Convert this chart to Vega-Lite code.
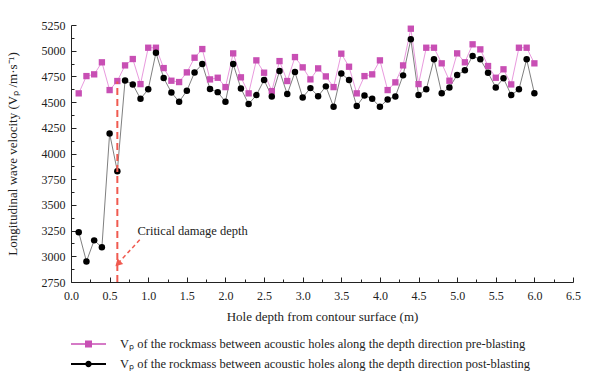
{
  "$schema": "https://vega.github.io/schema/vega-lite/v6.json",
  "width": 502,
  "height": 257,
  "autosize": {"type": "none"},
  "padding": {"left": 71, "top": 25, "right": 27, "bottom": 107},
  "background": "white",
  "config": {
    "view": {"stroke": null},
    "font": "Liberation Serif",
    "axis": {
      "domainColor": "#222",
      "domainWidth": 1,
      "tickColor": "#222",
      "tickWidth": 1,
      "labelFont": "Liberation Serif",
      "labelFontSize": 12,
      "labelColor": "#222",
      "titleFont": "Liberation Serif",
      "titleFontSize": 13,
      "titleFontWeight": "normal",
      "titleColor": "#222",
      "grid": false
    }
  },
  "resolve": {"axis": {"x": "independent", "y": "independent"}},
  "datasets": {
    "vp": [
      {"d": 0.1, "pre": 4585, "post": 3235},
      {"d": 0.2, "pre": 4753, "post": 2950},
      {"d": 0.3, "pre": 4770, "post": 3155},
      {"d": 0.4, "pre": 4887, "post": 3087},
      {"d": 0.5, "pre": 4617, "post": 4195},
      {"d": 0.6, "pre": 4705, "post": 3828},
      {"d": 0.7, "pre": 4857, "post": 4711},
      {"d": 0.8, "pre": 4919, "post": 4672},
      {"d": 0.9, "pre": 4675, "post": 4532},
      {"d": 1.0, "pre": 5029, "post": 4624},
      {"d": 1.1, "pre": 5029, "post": 4980},
      {"d": 1.2, "pre": 4831, "post": 4734},
      {"d": 1.3, "pre": 4708, "post": 4594},
      {"d": 1.4, "pre": 4695, "post": 4503},
      {"d": 1.5, "pre": 4789, "post": 4610},
      {"d": 1.6, "pre": 4932, "post": 4789},
      {"d": 1.7, "pre": 5016, "post": 4870},
      {"d": 1.8, "pre": 4721, "post": 4627},
      {"d": 1.9, "pre": 4737, "post": 4597},
      {"d": 2.0, "pre": 4646, "post": 4503},
      {"d": 2.1, "pre": 4974, "post": 4870},
      {"d": 2.2, "pre": 4741, "post": 4633},
      {"d": 2.3, "pre": 4585, "post": 4481},
      {"d": 2.4, "pre": 4906, "post": 4568},
      {"d": 2.5, "pre": 4786, "post": 4714},
      {"d": 2.6, "pre": 4607, "post": 4555},
      {"d": 2.7, "pre": 4899, "post": 4802},
      {"d": 2.8, "pre": 4705, "post": 4578},
      {"d": 2.9, "pre": 4938, "post": 4792},
      {"d": 3.0, "pre": 4838, "post": 4545},
      {"d": 3.1, "pre": 4721, "post": 4636},
      {"d": 3.2, "pre": 4828, "post": 4558},
      {"d": 3.3, "pre": 4750, "post": 4653},
      {"d": 3.4, "pre": 4646, "post": 4454},
      {"d": 3.5, "pre": 4971, "post": 4779},
      {"d": 3.6, "pre": 4844, "post": 4714},
      {"d": 3.7, "pre": 4585, "post": 4461},
      {"d": 3.8, "pre": 4753, "post": 4565},
      {"d": 3.9, "pre": 4770, "post": 4532},
      {"d": 4.0, "pre": 4906, "post": 4454},
      {"d": 4.1, "pre": 4617, "post": 4526},
      {"d": 4.2, "pre": 4692, "post": 4555},
      {"d": 4.3, "pre": 4857, "post": 4760},
      {"d": 4.4, "pre": 5214, "post": 5111},
      {"d": 4.5, "pre": 4675, "post": 4568},
      {"d": 4.6, "pre": 5029, "post": 4624},
      {"d": 4.7, "pre": 5029, "post": 4916},
      {"d": 4.8, "pre": 4877, "post": 4585},
      {"d": 4.9, "pre": 4708, "post": 4643},
      {"d": 5.0, "pre": 4974, "post": 4763},
      {"d": 5.1, "pre": 4887, "post": 4809},
      {"d": 5.2, "pre": 5062, "post": 4948},
      {"d": 5.3, "pre": 5013, "post": 4916},
      {"d": 5.4, "pre": 4851, "post": 4786},
      {"d": 5.5, "pre": 4737, "post": 4643},
      {"d": 5.6, "pre": 4819, "post": 4731},
      {"d": 5.7, "pre": 4672, "post": 4568},
      {"d": 5.8, "pre": 5029, "post": 4624},
      {"d": 5.9, "pre": 5029, "post": 4916},
      {"d": 6.0, "pre": 4877, "post": 4585}
    ],
    "crit": [{"d": 0.6, "v": 2750, "v2": 4700}],
    "arrow": [{"d": 0.89, "v": 3160, "d2": 0.625, "v2": 2945}],
    "head": [{"d": 0.607, "v": 2928}],
    "label": [{"d": 0.86, "v": 3245, "text": "Critical damage depth"}]
  },
  "layer": [
    {
      "data": {"name": "vp"},
      "mark": {"type": "line", "strokeWidth": 1, "color": "#e99ade"},
      "encoding": {
        "x": {
          "field": "d", "type": "quantitative",
          "scale": {"domain": [0, 6.5], "nice": false, "zero": false},
          "axis": {
            "title": "Hole depth from contour surface (m)",
            "values": [0, 0.5, 1, 1.5, 2, 2.5, 3, 3.5, 4, 4.5, 5, 5.5, 6, 6.5],
            "format": ".1f",
            "tickSize": -5,
            "labelPadding": 13,
            "titlePadding": 9,
            "labelFlush": false,
            "labelOverlap": false
          }
        },
        "y": {
          "field": "pre", "type": "quantitative",
          "scale": {"domain": [2750, 5250], "nice": false, "zero": false},
          "axis": {
            "title": "Longitudinal wave velocity (Vₚ /m·s⁻¹)",
            "values": [2750, 3000, 3250, 3500, 3750, 4000, 4250, 4500, 4750, 5000, 5250],
            "format": "d",
            "tickSize": -5,
            "labelPadding": 11,
            "titlePadding": 22,
            "labelFlush": false,
            "labelOverlap": false
          }
        }
      }
    },
    {
      "data": {"name": "vp"},
      "mark": {"type": "line", "strokeWidth": 1, "color": "#808080"},
      "encoding": {
        "x": {"field": "d", "type": "quantitative", "axis": null},
        "y": {"field": "post", "type": "quantitative", "axis": null}
      }
    },
    {
      "data": {"name": "vp"},
      "transform": [{"fold": ["pre", "post"], "as": ["series", "v"]}, {"filter": "datum.series == 'pre'"}],
      "mark": {"type": "point", "filled": true, "opacity": 1, "shape": "square", "size": 40},
      "encoding": {
        "x": {
          "field": "d", "type": "quantitative",
          "axis": {
            "orient": "top", "offset": -257,
            "values": [0.25, 0.75, 1.25, 1.75, 2.25, 2.75, 3.25, 3.75, 4.25, 4.75, 5.25, 5.75, 6.25],
            "labels": false, "domain": false, "title": null, "tickSize": 3
          }
        },
        "y": {
          "field": "v", "type": "quantitative",
          "axis": {
            "orient": "right", "offset": -502,
            "values": [2875, 3125, 3375, 3625, 3875, 4125, 4375, 4625, 4875, 5125],
            "labels": false, "domain": false, "title": null, "tickSize": 3
          }
        },
        "color": {
          "field": "series", "type": "nominal",
          "scale": {"domain": ["pre", "post"], "range": ["#c84fb4", "#000000"]},
          "legend": {
            "orient": "none",
            "legendX": 6.5,
            "legendY": 308,
            "title": null,
            "direction": "vertical",
            "padding": 0,
            "rowPadding": 2,
            "symbolSize": 400,
            "symbolType": {"expr": "datum.value == 'pre' ? 'M-1.75,-0.08H1.75V0.08H-1.75ZM-0.35,-0.35H0.35V0.35H-0.35Z' : 'M-1.75,-0.09H1.75V0.09H-1.75ZM0.32,0A0.32,0.32,0,1,1,-0.32,0A0.32,0.32,0,1,1,0.32,0Z'"},
            "labelOffset": 20.5,
            "labelFont": "Liberation Serif",
            "labelFontSize": 12.5,
            "labelColor": "#222",
            "labelLimit": 1000,
            "labelExpr": "datum.value == 'pre' ? 'Vₚ of the rockmass between acoustic holes along the depth direction pre-blasting' : 'Vₚ of the rockmass between acoustic holes along the depth direction post-blasting'"
          }
        }
      }
    },
    {
      "data": {"name": "vp"},
      "transform": [{"fold": ["pre", "post"], "as": ["series", "v"]}, {"filter": "datum.series == 'post'"}],
      "mark": {"type": "point", "filled": true, "opacity": 1, "shape": "circle", "size": 42, "color": "#000000"},
      "encoding": {
        "x": {"field": "d", "type": "quantitative", "axis": null},
        "y": {"field": "v", "type": "quantitative", "axis": null}
      }
    },
    {
      "data": {"name": "crit"},
      "mark": {"type": "rule", "color": "#f05a50", "strokeWidth": 2, "strokeDash": [7, 4]},
      "encoding": {
        "x": {"field": "d", "type": "quantitative", "axis": null},
        "y": {"field": "v", "type": "quantitative", "axis": null},
        "y2": {"field": "v2"}
      }
    },
    {
      "data": {"name": "arrow"},
      "mark": {"type": "rule", "color": "#f05a50", "strokeWidth": 1.5, "strokeDash": [4, 3]},
      "encoding": {
        "x": {"field": "d", "type": "quantitative", "axis": null},
        "y": {"field": "v", "type": "quantitative", "axis": null},
        "x2": {"field": "d2"},
        "y2": {"field": "v2"}
      }
    },
    {
      "data": {"name": "head"},
      "mark": {"type": "point", "shape": "triangle-up", "filled": true, "color": "#f05a50", "opacity": 1, "size": 65, "angle": 225},
      "encoding": {
        "x": {"field": "d", "type": "quantitative", "axis": null},
        "y": {"field": "v", "type": "quantitative", "axis": null}
      }
    },
    {
      "data": {"name": "label"},
      "mark": {"type": "text", "align": "left", "baseline": "middle", "font": "Liberation Serif", "fontSize": 12.5, "color": "#222"},
      "encoding": {
        "x": {"field": "d", "type": "quantitative", "axis": null},
        "y": {"field": "v", "type": "quantitative", "axis": null},
        "text": {"field": "text"}
      }
    }
  ]
}
